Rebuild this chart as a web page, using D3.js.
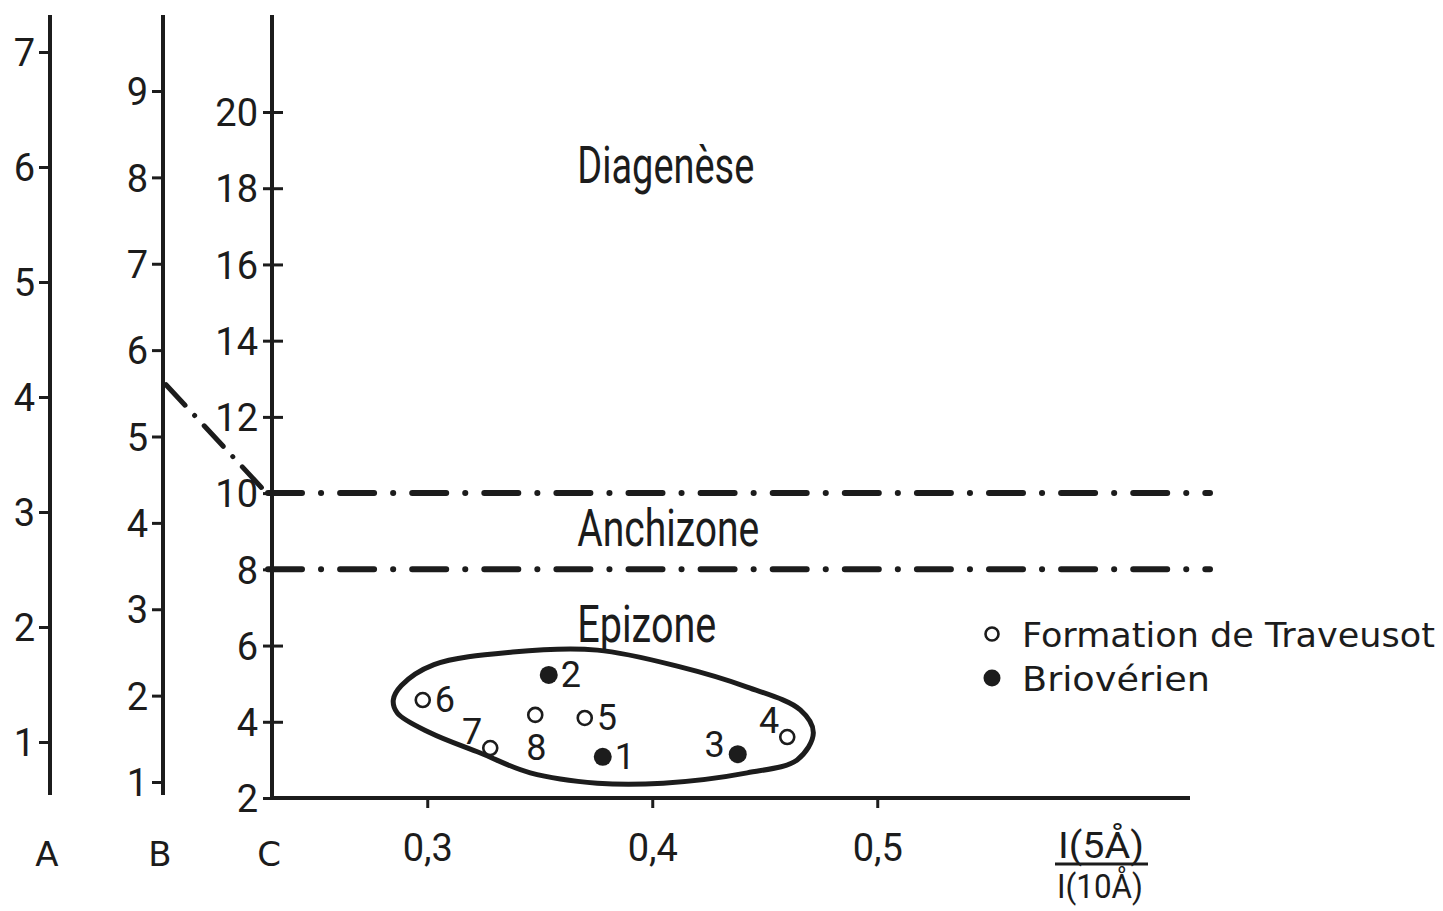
<!DOCTYPE html>
<html>
<head>
<meta charset="utf-8">
<script src="https://cdn.jsdelivr.net/npm/d3@7"></script>
<style>
  html, body { margin: 0; padding: 0; background: #fff; }
  svg { display: block; }
  .cond { font-family: Roboto, "Noto Sans", sans-serif; }
  .plain { font-family: "DejaVu Sans", "Noto Sans", sans-serif; }
</style>
</head>
<body>
<svg id="chart" width="1443" height="911"></svg>
<script>
// Three parallel crystallinity scales (A, B, C) and the I(5Å)/I(10Å) ratio
const scaleATicks = [1, 2, 3, 4, 5, 6, 7];
const scaleBTicks = [1, 2, 3, 4, 5, 6, 7, 8, 9];
const scaleCTicks = [2, 4, 6, 8, 10, 12, 14, 16, 18, 20];
const ratioTicks = [0.3, 0.4, 0.5];
const ratioTickLabels = ["0,3", "0,4", "0,5"];
const axisNames = ["A", "B", "C"];

// Zone limits on scale C and the matching value on scale B
const zoneLimits = [10, 8];
const limitOnB = 5.6;
const zoneNames = ["Diagenèse", "Anchizone", "Epizone"];
const zoneNameAt = [18.15, 8.6, 6.1];

// Samples
const sampleIds = ["1", "2", "3", "4", "5", "6", "7", "8"];
const sampleRatio = [0.378, 0.354, 0.438, 0.460, 0.370, 0.298, 0.328, 0.348];
const sampleC = [3.08, 5.23, 3.15, 3.60, 4.10, 4.57, 3.31, 4.18];
const sampleGroup = ["Briovérien", "Briovérien", "Briovérien", "Formation de Traveusot",
                     "Formation de Traveusot", "Formation de Traveusot", "Formation de Traveusot", "Formation de Traveusot"];
const groups = ["Formation de Traveusot", "Briovérien"];

// Envelope drawn around the samples (ratio, scale C)
const envelopeRatio = [0.2885, 0.3030, 0.3380, 0.3756, 0.4124, 0.4422, 0.4658, 0.4716, 0.4644,
                       0.4422, 0.4049, 0.3756, 0.3458, 0.3236, 0.3013, 0.2867, 0.2849];
const envelopeC = [4.95, 5.50, 5.83, 5.88, 5.44, 4.91, 4.31, 3.71, 3.00,
                   2.66, 2.39, 2.39, 2.66, 3.18, 3.71, 4.23, 4.57];

const ink = "#1c1c1c";
const svg = d3.select("#chart");

// Scales
const axisXpos = { A: 50, B: 163, C: 272 };
const yA = d3.scaleLinear().domain([1, 7]).range([742, 52]);
const yB = d3.scaleLinear().domain([1, 9]).range([782, 91]);
const yC = d3.scaleLinear().domain([2, 20]).range([798, 112]);
const x = d3.scaleLinear().domain([0.231, 0.639]).range([272, 1190]);

// Vertical scales A and B (ticks on the left)
function sideAxis(scale, ticks, xpos, yTop, yBottom) {
  const g = svg.append("g").attr("transform", `translate(${xpos},0)`);
  const ax = d3.axisLeft(scale).tickValues(ticks).tickSize(11).tickPadding(4).tickFormat(d3.format("d"));
  g.call(ax);
  g.select(".domain").remove();
  g.selectAll(".tick line").attr("stroke", ink).attr("stroke-width", 3);
  g.selectAll(".tick text").attr("class", "cond").attr("fill", ink)
    .attr("font-size", 38).attr("dy", "0.36em");
  g.append("line").attr("x1", 0).attr("x2", 0).attr("y1", yTop).attr("y2", yBottom)
    .attr("stroke", ink).attr("stroke-width", 4);
  return g;
}
sideAxis(yA, scaleATicks, axisXpos.A, 15, 795);
sideAxis(yB, scaleBTicks, axisXpos.B, 15, 795);

// Scale C (ticks crossing the axis)
const gC = svg.append("g").attr("transform", `translate(${axisXpos.C},0)`);
gC.call(d3.axisLeft(yC).tickValues(scaleCTicks).tickSize(11).tickPadding(3).tickFormat(d3.format("d")));
gC.select(".domain").remove();
gC.selectAll(".tick line").attr("x2", 11).attr("x1", -9).attr("stroke", ink).attr("stroke-width", 3);
gC.selectAll(".tick text").attr("class", "cond").attr("fill", ink)
  .attr("font-size", 38).attr("dy", "0.36em").attr("x", -14);
gC.append("line").attr("x1", 0).attr("x2", 0).attr("y1", 15).attr("y2", yC(2))
  .attr("stroke", ink).attr("stroke-width", 4);

// Ratio axis along the bottom
const gX = svg.append("g").attr("transform", `translate(0,${yC(2)})`);
gX.call(d3.axisBottom(x).tickValues(ratioTicks).tickSize(10).tickPadding(26)
  .tickFormat((d, i) => ratioTickLabels[i]));
gX.select(".domain").remove();
gX.selectAll(".tick line").attr("stroke", ink).attr("stroke-width", 3);
gX.selectAll(".tick text").attr("class", "cond").attr("fill", ink).attr("font-size", 38);
gX.append("line").attr("x1", axisXpos.C).attr("x2", x.range()[1]).attr("y1", 0).attr("y2", 0)
  .attr("stroke", ink).attr("stroke-width", 4);

// Axis names under the vertical scales
svg.selectAll("text.axisname").data(axisNames).join("text")
  .attr("class", "plain axisname")
  .attr("x", d => axisXpos[d] - 3).attr("y", 866)
  .attr("text-anchor", "middle").attr("font-size", 34).attr("fill", ink)
  .text(d => d);

// Ratio label as a fraction
const frac = svg.append("g").attr("class", "cond").attr("fill", ink);
frac.append("text").attr("x", 1101).attr("y", 858).attr("text-anchor", "middle")
  .attr("font-size", 36).attr("textLength", 86).attr("lengthAdjust", "spacingAndGlyphs")
  .text("I(5Å)");
frac.append("line").attr("x1", 1055).attr("x2", 1148).attr("y1", 864).attr("y2", 864)
  .attr("stroke", ink).attr("stroke-width", 3);
frac.append("text").attr("x", 1100).attr("y", 898).attr("text-anchor", "middle")
  .attr("font-size", 33).attr("textLength", 86).attr("lengthAdjust", "spacingAndGlyphs")
  .text("I(10Å)");

// Zone limits (dash-dot)
const dashDot = "34,19,0.1,19";
svg.selectAll("line.limit").data(zoneLimits).join("line")
  .attr("class", "limit")
  .attr("x1", axisXpos.C - 4).attr("x2", 1210)
  .attr("y1", d => yC(d)).attr("y2", d => yC(d))
  .attr("stroke", ink).attr("stroke-width", 6).attr("stroke-linecap", "round")
  .attr("stroke-dasharray", dashDot);

// Link from scale B to the diagenesis/anchizone limit on scale C
svg.append("line")
  .attr("x1", axisXpos.B + 3).attr("y1", yB(limitOnB))
  .attr("x2", axisXpos.C - 10).attr("y2", yC(zoneLimits[0]) - 5)
  .attr("stroke", ink).attr("stroke-width", 5).attr("stroke-linecap", "round")
  .attr("stroke-dasharray", "28,14,0.1,14");

// Zone names
const zoneWidths = [177, 182, 139];
svg.selectAll("text.zone").data(zoneNames).join("text")
  .attr("class", "cond zone")
  .attr("x", x(0.3667)).attr("y", (d, i) => yC(zoneNameAt[i]))
  .attr("font-size", 52).attr("fill", ink)
  .attr("textLength", (d, i) => zoneWidths[i]).attr("lengthAdjust", "spacingAndGlyphs")
  .text(d => d);

// Envelope around the samples
const envelope = envelopeRatio.map((r, i) => [x(r), yC(envelopeC[i])]);
svg.append("path")
  .attr("d", d3.line().curve(d3.curveCatmullRomClosed.alpha(0.5))(envelope))
  .attr("fill", "none").attr("stroke", ink).attr("stroke-width", 5);

// Samples
const samples = sampleIds.map((id, i) => ({ id, r: sampleRatio[i], c: sampleC[i], g: sampleGroup[i] }));
const isOpen = g => g === groups[0];
svg.selectAll("circle.sample").data(samples).join("circle")
  .attr("class", "sample")
  .attr("cx", d => x(d.r)).attr("cy", d => yC(d.c))
  .attr("r", d => isOpen(d.g) ? 7 : 9)
  .attr("fill", d => isOpen(d.g) ? "#fff" : ink)
  .attr("stroke", ink).attr("stroke-width", d => isOpen(d.g) ? 2.6 : 0);

// Sample numbers beside their markers
const labelSide = { "1": "right", "2": "right", "3": "left", "4": "upleft",
                    "5": "right", "6": "right", "7": "upleft", "8": "below" };
const sideOffset = {
  right: [12, 12, "start"], left: [-13, 3, "end"], upleft: [-8, -4, "end"], below: [1, 45, "middle"]
};
svg.selectAll("text.sampleid").data(samples).join("text")
  .attr("class", "cond sampleid")
  .attr("x", d => x(d.r) + sideOffset[labelSide[d.id]][0])
  .attr("y", d => yC(d.c) + sideOffset[labelSide[d.id]][1])
  .attr("text-anchor", d => sideOffset[labelSide[d.id]][2])
  .attr("font-size", 36).attr("fill", ink)
  .text(d => d.id);

// Legend
const legend = svg.append("g").attr("transform", "translate(992,634)");
const legendWidths = [413, 188];
groups.forEach((g, i) => {
  const row = legend.append("g").attr("transform", `translate(0,${i * 44})`);
  row.append("circle").attr("r", isOpen(g) ? 6.5 : 8.5)
    .attr("fill", isOpen(g) ? "#fff" : ink)
    .attr("stroke", ink).attr("stroke-width", isOpen(g) ? 2.6 : 0);
  row.append("text").attr("class", "plain").attr("x", 30).attr("y", 13)
    .attr("font-size", 34).attr("fill", ink)
    .attr("textLength", legendWidths[i]).attr("lengthAdjust", "spacingAndGlyphs")
    .text(g);
});
</script>
</body>
</html>
